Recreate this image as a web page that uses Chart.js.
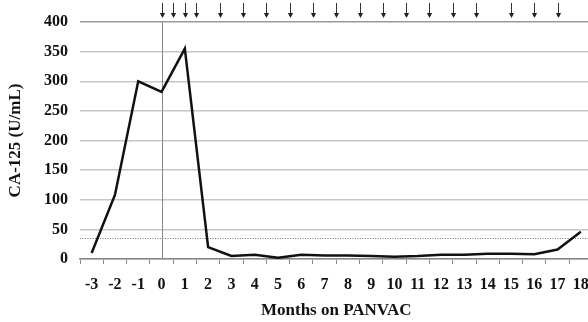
<!DOCTYPE html>
<html>
<head>
<meta charset="utf-8">
<script src="https://cdn.jsdelivr.net/npm/chart.js@4/dist/chart.umd.min.js"></script>
<style>
  html, body { margin: 0; padding: 0; background: #fff; overflow: hidden; }
  #wrap { width: 600px; height: 322px; }
</style>
</head>
<body>
<div id="wrap"><canvas id="chart" width="600" height="322"></canvas></div>
<script>
// months relative to start of PANVAC
const months = [-3, -2, -1, 0, 1, 2, 3, 4, 5, 6, 7, 8, 9, 10, 11, 12, 13, 14, 15, 16, 17, 18];
// CA-125 in U/mL
const ca125 = [10, 108, 300, 282, 355, 20, 5, 7, 2, 7, 6, 6, 5, 4, 5, 7, 7, 9, 9, 8, 16, 46];
// vaccination times (months)
const doses = [0, 0.5, 1, 1.5, 2.5, 3.5, 4.5, 5.5, 6.5, 7.5, 8.5, 9.5, 10.5, 11.5, 12.5, 13.5, 15, 16, 17];
const normalLimit = 35;
const yTicks = [0, 50, 100, 150, 200, 250, 300, 350, 400];

const serif = "'Liberation Serif', 'Times New Roman', serif";
const idx = m => months.indexOf(0) + m; // month -> category index

const extras = {
  id: 'extras',
  beforeDatasetsDraw(chart) {
    const { ctx, chartArea: a, scales: { x, y } } = chart;
    ctx.save();
    // dotted line at upper normal limit
    const yl = Math.round(y.getPixelForValue(normalLimit)) + 0.5;
    ctx.strokeStyle = '#777';
    ctx.lineWidth = 1;
    ctx.setLineDash([1, 1.5]);
    ctx.beginPath();
    ctx.moveTo(a.left, yl);
    ctx.lineTo(a.right, yl);
    ctx.stroke();
    // vertical line at month 0
    ctx.setLineDash([]);
    const x0 = Math.round(x.getPixelForValue(idx(0))) + 0.5;
    ctx.strokeStyle = '#888';
    ctx.beginPath();
    ctx.moveTo(x0, a.top);
    ctx.lineTo(x0, a.bottom);
    ctx.stroke();
    ctx.restore();
  },
  afterDraw(chart) {
    const { ctx, chartArea: a, scales: { x } } = chart;
    ctx.save();
    ctx.strokeStyle = '#333';
    ctx.fillStyle = '#222';
    ctx.lineWidth = 1;
    doses.forEach(d => {
      const px = Math.round(x.getPixelForValue(idx(d))) + 0.5;
      const tip = a.top - 4;
      ctx.beginPath();
      ctx.moveTo(px, a.top - 19);
      ctx.lineTo(px, tip - 4);
      ctx.stroke();
      ctx.beginPath();
      ctx.moveTo(px - 2.6, tip - 5);
      ctx.lineTo(px + 2.6, tip - 5);
      ctx.lineTo(px, tip);
      ctx.closePath();
      ctx.fill();
    });
    ctx.restore();
  }
};

new Chart(document.getElementById('chart'), {
  type: 'line',
  data: {
    labels: months.map(String),
    datasets: [{
      data: ca125,
      borderColor: '#111',
      borderWidth: 2.5,
      pointRadius: 0,
      tension: 0,
      fill: false
    }]
  },
  options: {
    responsive: false,
    animation: false,
    layout: { padding: { top: 22, right: 7, left: 0, bottom: 0 } },
    plugins: { legend: { display: false }, tooltip: { enabled: false } },
    scales: {
      x: {
        type: 'category',
        offset: true,
        grid: { drawOnChartArea: false, drawTicks: true, tickLength: 5, offset: true, color: '#888' },
        border: { color: '#888', width: 1.5 },
        ticks: { color: '#111', font: { family: serif, size: 16, weight: 'bold' }, padding: 11, maxRotation: 0, autoSkip: false },
        title: { display: true, text: 'Months on PANVAC', color: '#111', font: { family: serif, size: 17, weight: 'bold' }, padding: { top: 0, bottom: 1 } },
        afterFit(s) { s.height = 63; }
      },
      y: {
        min: 0,
        max: 400,
        afterBuildTicks(s) { s.ticks = yTicks.map(v => ({ value: v })); },
        grid: {
          drawTicks: false,
          color: c => c.tick && c.tick.value === 400 ? '#999' : '#c6c6c6',
          lineWidth: 1.5
        },
        border: { display: false },
        ticks: { color: '#111', font: { family: serif, size: 16, weight: 'bold' }, padding: 12 },
        title: { display: true, text: 'CA-125 (U/mL)', color: '#111', font: { family: serif, size: 17, weight: 'bold' }, padding: { top: 5, bottom: 0 } },
        afterFit(s) { s.width = 80; }
      }
    }
  },
  plugins: [extras]
});
</script>
</body>
</html>
